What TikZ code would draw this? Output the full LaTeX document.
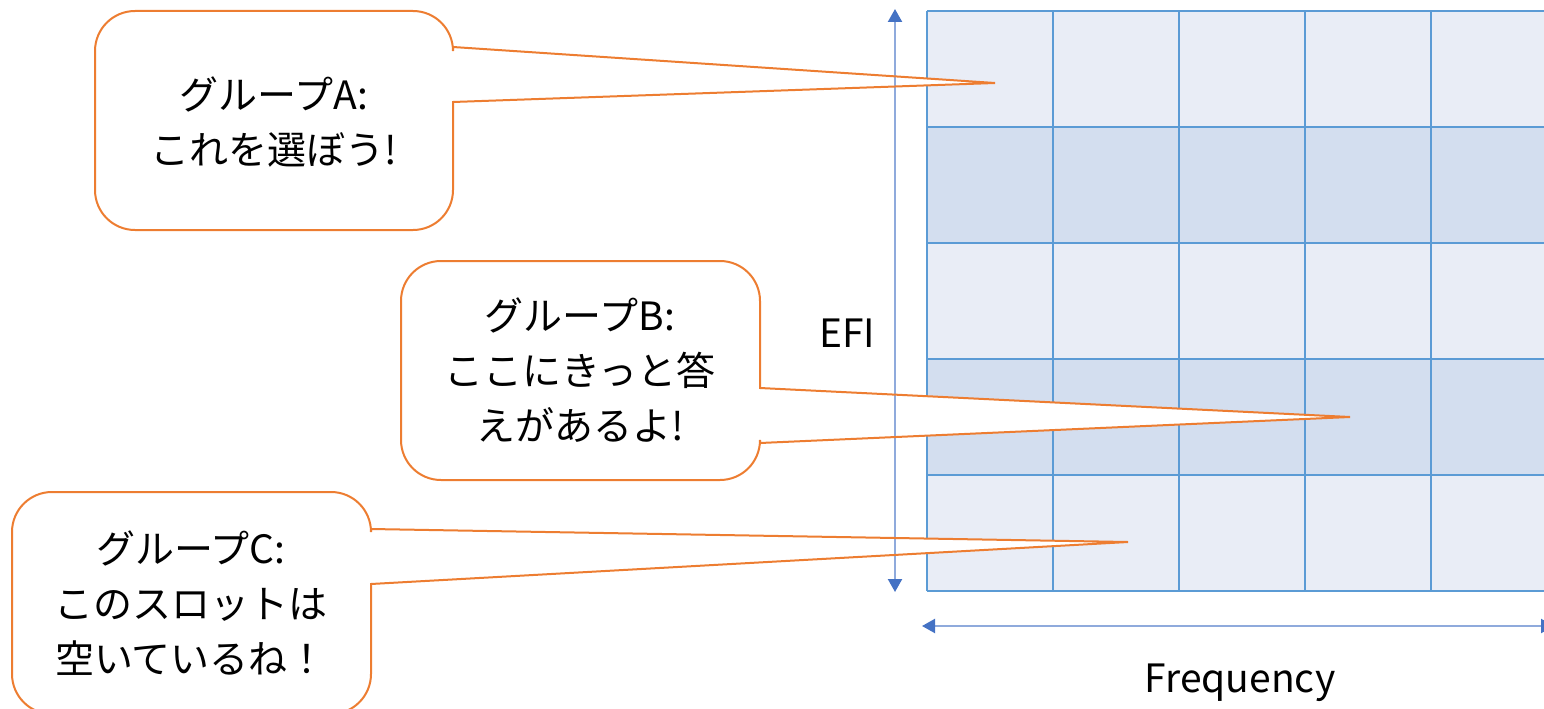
\documentclass[tikz,border=0pt]{standalone}
\usepackage{fontspec}
\setmainfont{Noto Sans CJK JP}
\usetikzlibrary{arrows.meta}
\definecolor{gridline}{HTML}{5B9BD5}
\definecolor{celllight}{HTML}{E9EDF6}
\definecolor{celldark}{HTML}{D3DEEF}
\definecolor{axisline}{HTML}{8FAADC}
\definecolor{axistip}{HTML}{4472C4}
\definecolor{calloutorange}{HTML}{ED7D31}
\newcommand\calloutshape[7]{%
  (#1+40,#2) -- (#3-40,#2) arc[start angle=90,end angle=0,radius=40pt]
  -- (#3,#5) -- (#7) -- (#3,#6)
  -- (#3,#4-40) arc[start angle=0,end angle=-90,radius=40pt]
  -- (#1+40,#4) arc[start angle=-90,end angle=-180,radius=40pt]
  -- (#1,#2+40) arc[start angle=180,end angle=90,radius=40pt] -- cycle}
\tikzset{
  gridstroke/.style={draw=gridline,line width=2.7pt},
  axis/.style={draw=axisline,line width=2.2pt,
    {Triangle[width=14pt,length=13pt,color=axistip]}-{Triangle[width=14pt,length=13pt,color=axistip]}},
  calloutfill/.style={fill=white},
  calloutline/.style={draw=calloutorange,line width=2pt,line join=miter},
  txt/.style={inner sep=0pt,align=center,font=\fontsize{39}{55}\selectfont},
}
\begin{document}
\begin{tikzpicture}[x=1pt,y=-1pt]
\clip (0,0) rectangle (1544,709);
% grid cells
\foreach \r/\c in {0/celllight,1/celldark,2/celllight,3/celldark,4/celllight}{
  \fill[\c] (927,11+116*\r) rectangle (1560,127+116*\r);
}
\foreach \i in {0,...,5}{
  \draw[gridstroke] (927,11+116*\i) -- (1560,11+116*\i);
}
\foreach \i in {0,...,4}{
  \draw[gridstroke] (927+126*\i,11) -- (927+126*\i,591);
}
% callout tips
\coordinate (tipA) at (995,83);
\coordinate (tipB) at (1350,417);
\coordinate (tipC) at (1128,542);
% callout fills
\fill[calloutfill] \calloutshape{95}{11}{453}{230}{47}{102}{tipA};
\fill[calloutfill] \calloutshape{401}{261}{760}{480}{388}{443}{tipB};
\fill[calloutfill] \calloutshape{12}{492}{371}{714}{529}{584}{tipC};
% axes
\coordinate (yTop) at (895,9);
\coordinate (yBot) at (895,592);
\coordinate (xLeft) at (922,626);
\coordinate (xRight) at (1554,626);
\draw[axis] (yBot) -- (yTop);
\draw[axis] (xLeft) -- (xRight);
% callout outlines
\draw[calloutline] \calloutshape{95}{11}{453}{230}{47}{102}{tipA};
\draw[calloutline] \calloutshape{401}{261}{760}{480}{388}{443}{tipB};
\draw[calloutline] \calloutshape{12}{492}{371}{714}{529}{584}{tipC};
% texts
\node[txt] (textA) at (274,122) {グループA:\\これを選ぼう!};
\node[txt] (textB) at (580,370) {グループB:\\ここにきっと答\\えがあるよ!};
\node[txt] (textC) at (191,603) {グループC:\\このスロットは\\空いているね！};
\node[txt] (efi) at (847,333) {EFI};
\node[txt] (freq) at (1240,683) {Frequency};
\end{tikzpicture}
\end{document}
